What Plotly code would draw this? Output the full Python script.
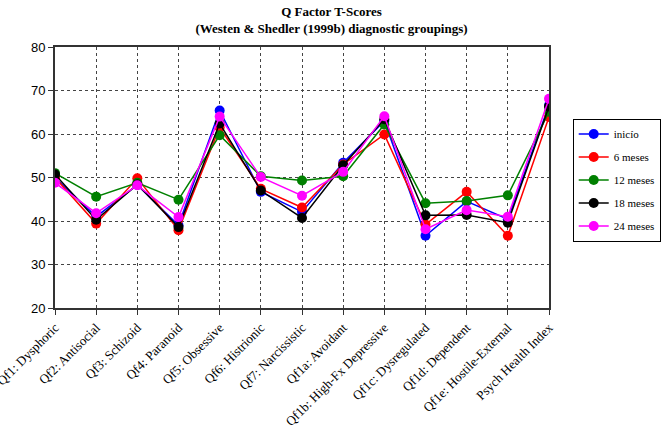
import plotly.graph_objects as go

categories = ["Qf1: Dysphoric", "Qf2: Antisocial", "Qf3: Schizoid", "Qf4: Paranoid",
              "Qf5: Obsessive", "Qf6: Histrionic", "Qf7: Narcissistic", "Qf1a: Avoidant",
              "Qf1b: High-Fx Depressive", "Qf1c: Dysregulated", "Qf1d: Dependent",
              "Qf1e: Hostile-External", "Psych Health Index"]

inicio = [50.0, 41.0, 48.3, 39.0, 65.4, 46.7, 42.1, 53.4, 63.0, 36.6, 44.5, 40.4, 66.6]
meses6 = [50.0, 39.4, 49.8, 37.9, 61.5, 47.4, 43.1, 53.0, 59.9, 39.2, 46.7, 36.6, 63.9]
meses12 = [51.0, 45.6, 48.8, 44.9, 59.7, 50.3, 49.3, 50.3, 62.2, 44.1, 44.6, 45.9, 65.1]
meses18 = [50.7, 40.3, 48.4, 38.6, 62.4, 47.0, 40.7, 52.8, 63.4, 41.3, 41.4, 39.6, 66.3]
meses24 = [48.8, 41.8, 48.2, 40.9, 64.0, 50.1, 45.8, 51.3, 64.1, 38.1, 42.5, 41.0, 68.1]

series = [("inicío", inicio, "#0000FF"), ("6 meses", meses6, "#FF0000"),
          ("12 meses", meses12, "#008000"), ("18 meses", meses18, "#000000"),
          ("24 meses", meses24, "#FF00FF")]

fig = go.Figure()
for i, (name, vals, col) in enumerate(series):
    fig.add_trace(go.Scatter(x=categories, y=vals, name=name, mode="lines+markers",
                             line=dict(color=col, width=1.5),
                             marker=dict(color=col, size=10),
                             legendgroup=f"g{i}"))

fig.update_layout(
    width=663, height=432,
    margin=dict(l=55, r=114, t=47, b=124, autoexpand=False),
    paper_bgcolor="white", plot_bgcolor="white",
    title=dict(text="<b>Q Factor T-Scores<br>(Westen &amp; Shedler (1999b) diagnostic groupings)</b>",
               x=0.5, xanchor="center", y=0.963, yanchor="middle",
               font=dict(family="Liberation Serif", size=13, color="black")),
    legend=dict(x=1.048, y=0.726, xanchor="left", yanchor="top",
                bordercolor="black", borderwidth=1, bgcolor="white",
                font=dict(family="Liberation Serif", size=11, color="black"),
                tracegroupgap=4, itemwidth=30),
    showlegend=True,
)
fig.update_xaxes(type="category", range=[0, 12], tickangle=-45, automargin=False,
                 showgrid=True, gridcolor="#444", griddash="3px,3px", gridwidth=1,
                 showline=True, mirror=True, linecolor="#333", linewidth=2,
                 ticks="outside", ticklen=5, tickcolor="#333",
                 tickfont=dict(family="Liberation Serif", size=13, color="black"))
fig.update_yaxes(range=[20, 80], dtick=10, automargin=False,
                 showgrid=True, gridcolor="#444", griddash="3px,3px", gridwidth=1,
                 showline=True, mirror=True, linecolor="#333", linewidth=2,
                 ticks="outside", ticklen=5, tickcolor="#333", zeroline=False,
                 tickfont=dict(family="Liberation Sans", size=13, color="black"))

fig.write_html("out.html")
